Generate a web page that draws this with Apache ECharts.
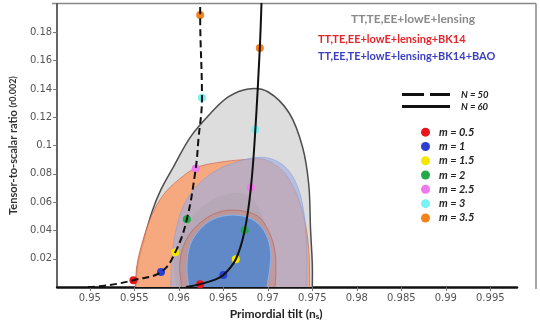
<!DOCTYPE html>
<html>
<head>
<meta charset="utf-8">
<script src="https://cdn.jsdelivr.net/npm/echarts@6/dist/echarts.min.js"></script>
<style>
  html, body { margin: 0; padding: 0; background: #fff; }
  #main { width: 540px; height: 325px; }
</style>
</head>
<body>
<div id="main"></div>
<script>
// tick values
var nsTicks = [0.95, 0.955, 0.96, 0.965, 0.97, 0.975, 0.98, 0.985, 0.99, 0.995];
var rTicks = [0.02, 0.04, 0.06, 0.08, 0.1, 0.12, 0.14, 0.16, 0.18];

// contours [ns, r]
var planck95 = [[0.9552,-0.006],[0.9552,0],[0.9554,0.016],[0.9561,0.034],[0.957,0.0535],[0.958,0.069],[0.9594,0.085],[0.9613,0.106],[0.9636,0.123],[0.9656,0.1345],[0.9678,0.14],[0.97,0.138],[0.9724,0.123],[0.9739,0.099],[0.9746,0.0725],[0.9748,0.041],[0.975,0.016],[0.975,0],[0.975,-0.006]];
var planck68 = [[0.9597,-0.006],[0.9597,0],[0.9594,0.018],[0.96,0.034],[0.9614,0.049],[0.9633,0.06],[0.9656,0.066],[0.9676,0.065],[0.9689,0.057],[0.9697,0.044],[0.9701,0.027],[0.9703,0],[0.9703,-0.006]];
var bk95 = [[0.9551,-0.006],[0.9551,0],[0.9553,0.016],[0.956,0.034],[0.957,0.0514],[0.9583,0.0655],[0.96,0.076],[0.962,0.0845],[0.9644,0.088],[0.9672,0.09],[0.9697,0.09],[0.9717,0.0817],[0.9731,0.0676],[0.9741,0.048],[0.9746,0.027],[0.9747,0],[0.9747,-0.006]];
var bao95 = [[0.9591,-0.006],[0.9591,0],[0.9592,0.0197],[0.9597,0.0408],[0.9606,0.0585],[0.9622,0.0725],[0.9644,0.0831],[0.9667,0.0887],[0.9686,0.0915],[0.9703,0.0908],[0.9719,0.0852],[0.9731,0.0746],[0.9739,0.0585],[0.9743,0.0373],[0.9744,0.0162],[0.9744,0],[0.9744,-0.006]];
var bk68 = [[0.9603,-0.006],[0.9603,0],[0.9601,0.0162],[0.9607,0.0317],[0.9622,0.0444],[0.9644,0.0528],[0.9667,0.0542],[0.9689,0.05],[0.9701,0.0394],[0.9708,0.0254],[0.9709,0.0092],[0.9708,0],[0.9708,-0.006]];
var bao68 = [[0.9611,-0.006],[0.9611,0],[0.9609,0.0141],[0.9613,0.0303],[0.9626,0.0423],[0.9644,0.0493],[0.9667,0.0507],[0.9686,0.0465],[0.9698,0.0373],[0.9703,0.0254],[0.9702,0.0113],[0.9699,0],[0.9699,-0.006]];

// model curves
var curveN50 = [[0.9498,0],[0.9522,0.0014],[0.9549,0.0049],[0.958,0.0106],[0.9596,0.0246],[0.9609,0.0479],[0.9619,0.0838],[0.9622,0.1042],[0.9626,0.1338],[0.9624,0.1923],[0.9624,0.203]];
var curveN60 = [[0.9608,0],[0.9624,0.0021],[0.9639,0.0049],[0.965,0.0085],[0.9664,0.0197],[0.9674,0.0401],[0.9681,0.0704],[0.9686,0.1113],[0.9691,0.169],[0.9693,0.203]];

// m points: [N=50, N=60]
var mNames = ['m = 0.5', 'm = 1', 'm = 1.5', 'm = 2', 'm = 2.5', 'm = 3', 'm = 3.5'];
var mColors = ['#e8141e', '#2b3fd0', '#f7e600', '#22aa48', '#ef78ec', '#78f2f2', '#f5821e'];
var mPoints = [
  [[0.9549,0.0049],[0.9624,0.0021]],
  [[0.958,0.0106],[0.965,0.0085]],
  [[0.9596,0.0246],[0.9664,0.0197]],
  [[0.9609,0.0479],[0.9674,0.0401]],
  [[0.9619,0.0838],[0.9681,0.0704]],
  [[0.9626,0.1338],[0.9686,0.1113]],
  [[0.9624,0.1923],[0.9691,0.169]]
];

function contour(name, pts, style) {
  return {
    name: name,
    type: 'custom',
    clip: true,
    silent: true,
    data: pts,
    encode: { x: 0, y: 1 },
    renderItem: function (params, api) {
      if (params.dataIndex !== 0) return null;
      var p = pts.map(function (d) { return api.coord(d); });
      return { type: 'polygon', shape: { points: p, smooth: 0.35 }, style: style };
    }
  };
}

var series = [
  contour('planck95', planck95, { fill: '#dedddd', stroke: '#4d4d4d', lineWidth: 1.5 }),
  contour('bk95', bk95, { fill: 'rgba(250,160,110,0.85)', stroke: 'rgba(200,80,60,0.7)', lineWidth: 0.8 }),
  contour('bao95', bao95, { fill: 'rgba(160,175,225,0.65)', stroke: 'rgba(120,150,220,0.6)', lineWidth: 0.8 }),
  contour('planck68', planck68, { fill: 'rgba(150,150,150,0.18)' }),
  contour('bk68', bk68, { fill: 'rgba(200,120,100,0.35)', stroke: 'rgba(190,80,70,0.7)', lineWidth: 0.8 }),
  contour('bao68', bao68, { fill: 'rgba(85,135,205,0.88)', stroke: 'rgba(140,180,235,1)', lineWidth: 1 }),
  {
    name: 'N = 50', type: 'line', data: curveN50, smooth: 0.4, symbol: 'none', silent: true,
    itemStyle: { color: '#111' },
    lineStyle: { color: '#111', width: 2, type: [7, 4] }
  },
  {
    name: 'N = 60', type: 'line', data: curveN60, smooth: 0.4, symbol: 'none', silent: true,
    itemStyle: { color: '#111' },
    lineStyle: { color: '#111', width: 2 }
  }
];
mNames.forEach(function (n, i) {
  series.push({
    name: n, type: 'scatter', data: mPoints[i], symbolSize: 8, silent: true,
    itemStyle: { color: mColors[i], opacity: 1 }
  });
});

var chart = echarts.init(document.getElementById('main'), null, { renderer: 'canvas' });
chart.setOption({
  animation: false,
  backgroundColor: '#fff',
  grid: { left: 52, right: 23, top: 4, bottom: 36 },
  xAxis: {
    type: 'value', min: 0.94633, max: 0.998,
    name: 'Primordial tilt (n{s|s})', nameLocation: 'middle', nameGap: 20,
    nameTextStyle: {
      fontFamily: 'Lato', fontWeight: 'bold', fontSize: 12, color: '#222', padding: [0, 22, 0, 0],
      rich: { s: { fontFamily: 'Lato', fontWeight: 'bold', fontSize: 8, color: '#222', padding: [4, 0, 0, 0] } }
    },
    axisLine: { lineStyle: { color: '#111', width: 2.5 } },
    axisTick: { customValues: nsTicks, length: 4, lineStyle: { color: '#777' } },
    axisLabel: { customValues: nsTicks, color: '#555', fontFamily: 'DejaVu Sans', fontSize: 10, margin: 6 },
    splitLine: { show: false }
  },
  yAxis: {
    type: 'value', min: 0, max: 0.2,
    name: 'Tensor-to-scalar ratio {s|(r0.002)}', nameLocation: 'middle', nameGap: 33, nameRotate: 90,
    nameTextStyle: {
      fontFamily: 'Lato', fontWeight: 'bold', fontSize: 11, color: '#333',
      rich: { s: { fontFamily: 'Lato', fontWeight: 'bold', fontSize: 9, color: '#333' } }
    },
    axisLine: { show: true, lineStyle: { color: '#333', width: 1.5 } },
    axisTick: { customValues: rTicks, length: 4, lineStyle: { color: '#777' } },
    axisLabel: { customValues: rTicks, color: '#555', fontFamily: 'DejaVu Sans', fontSize: 10, margin: 5 },
    splitLine: { show: false }
  },
  legend: [
    {
      data: [
        { name: 'N = 50', icon: 'path://M0 0H22V3H0Z M28 0H48V3H28Z' },
        { name: 'N = 60', icon: 'rect' }
      ],
      orient: 'vertical', left: 397, top: 84, selectedMode: false,
      itemWidth: 48, itemHeight: 3, itemGap: 1,
      itemStyle: { color: '#111' },
      textStyle: { fontFamily: 'Lato', fontStyle: 'italic', fontWeight: 'bold', fontSize: 9.5, color: '#222', lineHeight: 11, padding: [0, 0, 0, 6] }
    },
    {
      data: mNames.map(function (n) { return { name: n, icon: 'circle' }; }),
      orient: 'vertical', left: 416, top: 121, selectedMode: false,
      itemWidth: 9, itemHeight: 9, itemGap: 2,
      textStyle: { fontFamily: 'Lato', fontStyle: 'italic', fontWeight: 'bold', fontSize: 11, color: '#222', lineHeight: 12.3, padding: [0, 0, 0, 4] }
    }
  ],
  graphic: [
    { type: 'line', shape: { x1: 52, y1: 3.5, x2: 536, y2: 3.5 }, style: { stroke: '#888', lineWidth: 1.5 }, silent: true },
    { type: 'line', shape: { x1: 536, y1: 3.5, x2: 536, y2: 289 }, style: { stroke: '#888', lineWidth: 1.5 }, silent: true },
    { type: 'text', left: 351, top: 13, style: { text: 'TT,TE,EE+lowE+lensing', fill: '#8a8a8a', font: 'bold 12px Lato' } },
    { type: 'text', left: 318, top: 34, style: { text: 'TT,TE,EE+lowE+lensing+BK14', fill: '#e3262b', font: 'bold 11px Lato' } },
    { type: 'text', left: 318, top: 51, style: { text: 'TT,EE,TE+lowE+lensing+BK14+BAO', fill: '#3b3fbf', font: 'bold 11px Lato' } }
  ],
  series: series
});
</script>
</body>
</html>
